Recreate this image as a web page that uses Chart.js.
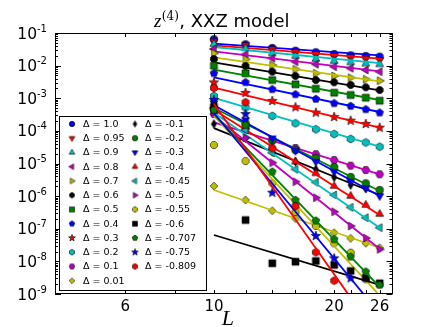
<!DOCTYPE html>
<html><head><meta charset="utf-8">
<script src="https://cdn.jsdelivr.net/npm/chart.js@4/dist/chart.umd.min.js"></script>
<style>html,body{margin:0;padding:0;background:#fff}canvas{display:block}</style>
</head><body>
<canvas id="c" width="436" height="327"></canvas>
<script>
// ---------------- data ----------------
const L = [10, 12, 14, 16, 18, 20, 22, 24, 26];
const fitL = [10, 26];
const deltas = ['1.0','0.95','0.9','0.8','0.7','0.6','0.5','0.4','0.3','0.2','0.1','0.01',
                '-0.1','-0.2','-0.3','-0.4','-0.45','-0.5','-0.55','-0.6','-0.707','-0.75','-0.809'];
const xTickValues = [6, 8, 10, 12, 14, 16, 18, 20, 22, 24, 26];
const xTickLabels = ['6', '10', '20', '26'];
const yDecades = [-1, -2, -3, -4, -5, -6, -7, -8, -9];

const z_p1_0   = [0.0641, 0.0451, 0.0347, 0.0286, 0.0256, 0.0227, 0.0207, 0.0197, 0.0188];
const z_p0_95  = [0.0557, 0.0429, 0.0324, 0.0267, 0.0227, 0.0201, 0.0180, 0.0163, 0.0149];
const z_p0_9   = [0.0460, 0.0340, 0.0239, 0.0197, 0.0160, 0.0139, 0.0126, 0.0115, 0.0110];
const z_p0_8   = [0.0324, 0.0222, 0.0168, 0.0132, 0.0110, 0.00927, 0.00828, 0.00735, 0.00652];
const z_p0_7   = [0.0239, 0.0156, 0.0104, 0.00771, 0.00582, 0.00481, 0.00427, 0.00381, 0.00345];
const z_p0_6   = [0.0160, 0.00975, 0.00652, 0.00481, 0.00362, 0.00308, 0.00255, 0.00217, 0.00179];
const z_p0_5   = [0.00995, 0.00582, 0.00362, 0.00268, 0.00196, 0.00148, 0.00126, 0.00104, 0.000841];
const z_p0_4   = [0.00582, 0.00308, 0.00188, 0.00132, 0.000948, 0.000700, 0.000578, 0.000458, 0.000361];
const z_p0_3   = [0.00304, 0.00145, 0.000824, 0.000528, 0.000361, 0.000266, 0.000205, 0.000163, 0.000125];
const z_p0_2   = [0.00117, 0.000520, 0.000286, 0.000171, 0.000112, 8.02e-5, 5.64e-5, 4.41e-5, 3.27e-5];
const z_p0_1   = [3.29e-4, 1.14e-4, 5.25e-5, 2.99e-5, 1.93e-5, 1.28e-5, 8.57e-6, 6.32e-6, 4.67e-6];
const z_p0_01  = [2.04e-6, 7.60e-7, 3.57e-7, 2.06e-7, 1.30e-7, 7.57e-8, 5.09e-8, 3.58e-8, 2.62e-8];
const z_m0_1   = [1.63e-4, 5.92e-5, 2.30e-5, 1.14e-5, 6.64e-6, 3.78e-6, 2.19e-6, 1.74e-6, 1.16e-6];
const z_m0_2   = [4.37e-4, 1.71e-4, 5.00e-5, 2.59e-5, 1.48e-5, 7.82e-6, 3.86e-6, 2.47e-6, 1.54e-6];
const z_m0_3   = [7.15e-4, 2.15e-4, 5.92e-5, 2.47e-5, 1.14e-5, 5.61e-6, 2.77e-6, 1.74e-6, 1.01e-6];
const z_m0_4   = [6.21e-4, 1.41e-4, 3.14e-5, 1.14e-5, 5.01e-6, 2.04e-6, 1.01e-6, 5.35e-7, 2.83e-7];
const z_m0_45  = [5.02e-4, 1.06e-4, 2.10e-5, 6.64e-6, 2.65e-6, 1.08e-6, 4.54e-7, 2.18e-7, 1.08e-7];
const z_m0_5   = [3.79e-4, 6.05e-5, 1.06e-5, 2.77e-6, 8.95e-7, 3.33e-7, 1.21e-7, 5.20e-8, 2.34e-8];
const z_m0_55  = [3.69e-5, 1.19e-5, 2.47e-6, 3.26e-7, 1.21e-7, 3.58e-8, 1.85e-8, 2.82e-9, null];
const z_m0_6   = [5.39e-4, 1.85e-7, 8.73e-9, 9.77e-9, 1.03e-8, 7.75e-9, 5.07e-9, 3.16e-9, 2.13e-9];
const z_m0_707 = [4.37e-4, 1.51e-4, 5.61e-6, 7.60e-7, 1.77e-7, 4.75e-8, 1.39e-8, 4.83e-9, 1.89e-9];
const z_m0_75  = [8.84e-4, 3.29e-4, 1.27e-6, null, 6.00e-8, 1.24e-8, 3.03e-9, null, null];
const z_m0_809 = [2.06e-3, 7.52e-4, 2.92e-5, 4.98e-7, 1.90e-8, 2.56e-9, null, null, null];

// power-law fits, value at L = 10 and L = 26
const fit_p1_0   = [0.0470, 0.0207];
const fit_p0_95  = [0.0420, 0.0165];
const fit_p0_9   = [0.0372, 0.0120];
const fit_p0_8   = [0.0275, 0.0067];
const fit_p0_7   = [0.0180, 0.00331];
const fit_p0_6   = [0.0126, 0.00175];
const fit_p0_5   = [0.00750, 0.000884];
const fit_p0_4   = [0.00439, 0.000379];
const fit_p0_3   = [0.00210, 0.000125];
const fit_p0_2   = [0.00102, 3.27e-5];
const fit_p0_1   = [1.83e-4, 4.67e-6];
const fit_p0_01  = [1.54e-6, 2.62e-8];
const fit_m0_1   = [1.22e-4, 1.08e-6];
const fit_m0_2   = [5.02e-4, 1.44e-6];
const fit_m0_3   = [6.08e-4, 1.01e-6];
const fit_m0_4   = [4.43e-4, 2.64e-7];
const fit_m0_45  = [3.61e-4, 1.08e-7];
const fit_m0_5   = [2.90e-4, 2.39e-8];
const fit_m0_55  = [2.88e-4, 9.0e-10];
const fit_m0_6   = [6.43e-8, 1.89e-9];
const fit_m0_707 = [3.22e-4, 1.64e-9];
const fit_m0_75  = [3.53e-4, 2.52e-10];
const fit_m0_809 = [6.67e-4, 4.27e-11];

const seriesZ = [z_p1_0, z_p0_95, z_p0_9, z_p0_8, z_p0_7, z_p0_6, z_p0_5, z_p0_4, z_p0_3, z_p0_2, z_p0_1, z_p0_01,
  z_m0_1, z_m0_2, z_m0_3, z_m0_4, z_m0_45, z_m0_5, z_m0_55, z_m0_6, z_m0_707, z_m0_75, z_m0_809];
const seriesFit = [fit_p1_0, fit_p0_95, fit_p0_9, fit_p0_8, fit_p0_7, fit_p0_6, fit_p0_5, fit_p0_4, fit_p0_3, fit_p0_2, fit_p0_1, fit_p0_01,
  fit_m0_1, fit_m0_2, fit_m0_3, fit_m0_4, fit_m0_45, fit_m0_5, fit_m0_55, fit_m0_6, fit_m0_707, fit_m0_75, fit_m0_809];

// ---------------- styles ----------------
const palette = {b:'#0000ff', r:'#ff0000', c:'#00bfbf', m:'#bf00bf', y:'#bfbf00', k:'#000000', g:'#008000'};
const colorCycle = ['b','r','c','m','y','k','g'];
const markerCycle = ['o','v','^','<','>','8','s','p','*','h','H','D','d'];

function makeMarker(shape, color, scale) {
  const base = {o:3.8,'8':3.8,s:3.5,p:4.0,h:4.0,H:4.0,D:3.9,d:4.4,'*':5.0,v:4.6,'^':4.6,'<':4.6,'>':4.6}[shape] * scale;
  const s = Math.ceil(2 * base + 4);
  const cv = document.createElement('canvas'); cv.width = cv.height = s;
  const g = cv.getContext('2d'); const cx = s / 2, cy = s / 2, r = base;
  g.beginPath();
  const poly = (n, rot, rr) => { for (let i = 0; i < n; i++) { const a = rot + i * 2 * Math.PI / n;
      const px = cx + rr * Math.cos(a), py = cy + rr * Math.sin(a); i ? g.lineTo(px, py) : g.moveTo(px, py); } g.closePath(); };
  switch (shape) {
    case 'o': g.arc(cx, cy, r, 0, 2 * Math.PI); break;
    case '^': poly(3, -Math.PI / 2, r); break;
    case 'v': poly(3, Math.PI / 2, r); break;
    case '<': poly(3, Math.PI, r); break;
    case '>': poly(3, 0, r); break;
    case '8': poly(8, Math.PI / 8, r); break;
    case 's': g.rect(cx - r, cy - r, 2 * r, 2 * r); break;
    case 'p': poly(5, -Math.PI / 2, r); break;
    case 'h': poly(6, -Math.PI / 2, r); break;
    case 'H': poly(6, 0, r); break;
    case 'D': poly(4, 0, r); break;
    case 'd': g.moveTo(cx, cy - r); g.lineTo(cx + r * 0.6, cy); g.lineTo(cx, cy + r); g.lineTo(cx - r * 0.6, cy); g.closePath(); break;
    case '*': for (let i = 0; i < 10; i++) { const a = -Math.PI / 2 + i * Math.PI / 5; const rr = i % 2 ? r * 0.42 : r;
        const px = cx + rr * Math.cos(a), py = cy + rr * Math.sin(a); i ? g.lineTo(px, py) : g.moveTo(px, py); } g.closePath(); break;
  }
  g.fillStyle = color; g.fill(); g.lineWidth = 0.6; g.strokeStyle = '#000'; g.stroke();
  return cv;
}

const series = deltas.map((d, i) => {
  const color = palette[colorCycle[i % 7]];
  const shape = markerCycle[i % 13];
  return { label: 'Δ = ' + d, color, shape, z: seriesZ[i], fit: seriesFit[i],
           marker: makeMarker(shape, color, 1), legendMarker: makeMarker(shape, color, 0.72) };
});

const datasets = [];
series.forEach((s) => {
  datasets.push({ label: s.label, data: L.map((l, j) => ({x: l, y: s.z[j]})).filter(p => p.y !== null),
    showLine: false, pointStyle: s.marker, pointRadius: 4, backgroundColor: s.color, borderColor: s.color });
  datasets.push({ label: s.label + ' fit', data: fitL.map((l, j) => ({x: l, y: s.fit[j]})),
    showLine: true, pointRadius: 0, borderColor: s.color, borderWidth: 1.8, backgroundColor: s.color });
});
datasets.reverse(); // later series drawn on top (Chart.js draws dataset 0 last)

const FONT = '"DejaVu Sans", sans-serif';
const deco = {
  id: 'deco',
  afterDraw(chart) {
    const {ctx, chartArea: a, scales: {x, y}} = chart;
    ctx.save();
    // frame
    ctx.strokeStyle = '#000'; ctx.lineWidth = 1;
    ctx.strokeRect(Math.round(a.left) + 0.5, Math.round(a.top) + 0.5, Math.round(a.right - a.left) - 1, Math.round(a.bottom - a.top) - 1);
    // y ticks (inward, both sides)
    ctx.beginPath();
    yDecades.forEach(e => {
      for (let m = 1; m <= 9; m++) {
        const v = m * Math.pow(10, e);
        if (v > 0.10001) break;
        const py = Math.round(y.getPixelForValue(v)) + 0.5;
        const len = m === 1 ? 6 : 3;
        ctx.moveTo(a.left, py); ctx.lineTo(a.left + len, py);
        ctx.moveTo(a.right, py); ctx.lineTo(a.right - len, py);
      }
    });
    xTickValues.forEach(v => {
      const px = Math.round(x.getPixelForValue(v)) + 0.5;
      ctx.moveTo(px, a.bottom); ctx.lineTo(px, a.bottom - 4);
      ctx.moveTo(px, a.top); ctx.lineTo(px, a.top + 4);
    });
    ctx.stroke();
    // tick labels
    ctx.fillStyle = '#000';
    ctx.font = '15px ' + FONT; ctx.textAlign = 'center'; ctx.textBaseline = 'alphabetic';
    xTickLabels.forEach(t => ctx.fillText(t, x.getPixelForValue(Number(t)), a.bottom + 17));
    yDecades.forEach(e => {
      const py = y.getPixelForValue(Math.pow(10, e));
      ctx.font = '15.5px ' + FONT; ctx.textAlign = 'right';
      ctx.fillText('10', a.left - 18, py + 5.5);
      ctx.font = '10px ' + FONT; ctx.textAlign = 'left';
      ctx.fillText(String(e), a.left - 18, py - 1.5);
    });
    // title
    const cx = (a.left + a.right) / 2 - 2;
    const p1 = 'z', p2 = '(4)', p3 = ', XXZ model';
    const f1 = 'italic 19px "Liberation Serif", serif', f2 = '12px "DejaVu Serif", serif', f3 = '18px ' + FONT;
    ctx.font = f1; const w1 = ctx.measureText(p1).width;
    ctx.font = f2; const w2 = ctx.measureText(p2).width;
    ctx.font = f3; const w3 = ctx.measureText(p3).width;
    let tx = cx - (w1 + w2 + 1 + w3) / 2; ctx.textAlign = 'left';
    ctx.font = f1; ctx.fillText(p1, tx, 26.5); tx += w1 + 0.5;
    ctx.font = f2; ctx.fillText(p2, tx, 19.5); tx += w2 + 0.5;
    ctx.font = f3; ctx.fillText(p3, tx, 26.5);
    // x label
    ctx.font = 'italic 22px "Liberation Serif", serif'; ctx.textAlign = 'center';
    ctx.fillText('L', cx + 6, 325);
    // legend
    const lx0 = a.left + 4, ly0 = 116, lw = 147, lh = 174;
    ctx.fillStyle = '#fff'; ctx.fillRect(lx0, ly0, lw, lh);
    ctx.strokeStyle = '#000'; ctx.lineWidth = 1; ctx.strokeRect(lx0 + 0.5, ly0 + 0.5, lw, lh);
    ctx.font = '9.5px ' + FONT; ctx.textAlign = 'left'; ctx.textBaseline = 'middle'; ctx.fillStyle = '#000';
    series.forEach((s, i) => {
      const col = i < 12 ? 0 : 1, row = i < 12 ? i : i - 12;
      const mx = col ? 135 : 72, my = 124 + row * 14.25;
      const img = s.legendMarker;
      ctx.drawImage(img, mx - img.width / 2, my - img.height / 2);
      ctx.fillText(s.label, col ? 145 : 83, my + 0.5);
    });
    ctx.restore();
  }
};

new Chart(document.getElementById('c'), {
  type: 'scatter',
  data: { datasets },
  options: {
    responsive: false, animation: false, devicePixelRatio: 1,
    layout: { padding: { left: 55, right: 43.5, top: 33, bottom: 33 } },
    plugins: { legend: { display: false }, title: { display: false }, tooltip: { enabled: false } },
    scales: {
      x: { type: 'logarithmic', min: 4, max: 28, display: false },
      y: { type: 'logarithmic', min: 1e-9, max: 1e-1, display: false }
    }
  },
  plugins: [deco]
});
</script>
</body></html>
